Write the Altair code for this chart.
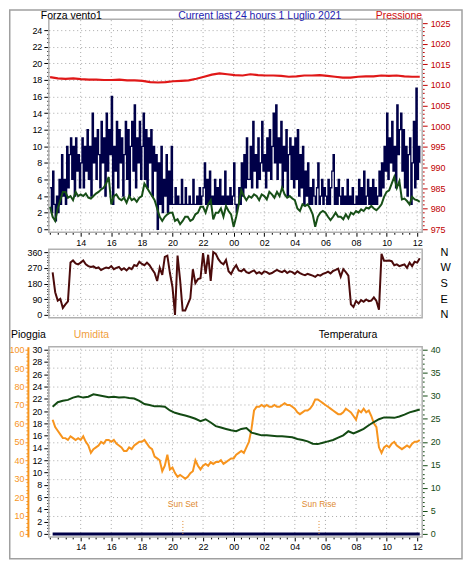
import altair as alt
import pandas as pd

# ---------------- data ----------------
# wind gust, 5-minute samples from 12:00 to 12:10 next day (hours 12 .. 36.17)
GUST = [
    5, 2, 7, 3, 1, 4, 2, 6, 3, 9, 4, 6,
    3, 10, 5, 9, 11, 6, 10, 4, 11, 7, 9, 5,
    8, 11, 5, 10, 7, 12, 6, 10, 4, 14, 8, 11,
    6, 12, 9, 5, 13, 8, 11, 4, 14, 7, 12, 9,
    16, 3, 10, 7, 13, 5, 12, 8, 11, 4, 9, 13,
    6, 12, 4, 10, 13, 7, 15, 5, 11, 8, 13, 6,
    10, 14, 6, 12, 5, 11, 8, 12, 4, 10, 7, 9,
    0, 8, 3, 10, 2, 6, 4, 9, 2, 7, 3, 10,
    3, 3, 5, 3, 4, 3, 3, 6, 3, 3, 5, 3,
    3, 4, 3, 3, 6, 3, 3, 4, 3, 5, 3, 4,
    5, 8, 3, 6, 3, 7, 3, 4, 3, 6, 3, 5,
    3, 6, 3, 4, 3, 7, 3, 4, 3, 5, 3, 4,
    8, 3, 2, 3, 5, 3, 8, 4, 9, 5, 11, 6,
    6, 10, 5, 13, 7, 9, 5, 11, 6, 8, 13, 7,
    9, 5, 11, 7, 12, 6, 10, 14, 8, 15, 6, 11,
    8, 13, 5, 10, 7, 12, 4, 9, 11, 6, 10, 5,
    11, 6, 12, 4, 9, 5, 10, 3, 7, 4, 8, 3,
    5, 3, 6, 4, 3, 5, 8, 3, 4, 6, 3, 5,
    4, 3, 6, 3, 5, 7, 9, 3, 5, 3, 6, 4,
    3, 5, 3, 4, 3, 6, 3, 4, 3, 5, 3, 3,
    4, 3, 6, 3, 5, 3, 7, 3, 4, 6, 3, 5,
    3, 6, 3, 5, 3, 4, 7, 4, 8, 5, 10, 7,
    14, 6, 11, 8, 13, 7, 10, 5, 15, 9, 12, 14,
    7, 12, 5, 10, 4, 9, 11, 3, 8, 13, 5, 17,
    6, 10, 8,
]
# average wind, 10-minute samples from 12:00
WIND_AVG = [
    2.7, 1.5, 1.0, 2.5, 3.5, 4.5,
    4.5, 3.8, 4.0, 3.5, 4.5, 4.0,
    4.2, 4.0, 4.3, 3.8, 3.7, 4.0,
    4.3, 4.5, 4.8, 5.0, 5.5, 6.3,
    3.0, 4.0, 4.2, 3.7, 3.5, 3.8,
    3.2, 4.0, 3.5, 3.7, 3.3, 3.8,
    4.0, 5.5, 5.0, 4.5, 4.0, 3.5,
    2.5, 1.5, 1.0, 1.5, 1.8, 2.0,
    2.0, 1.0, 1.2, 0.6, 1.0, 1.5,
    1.5, 1.0, 1.2, 1.8, 2.0, 2.7,
    2.7, 2.0, 3.0, 3.5, 1.2, 2.0,
    2.0, 2.5, 1.5, 2.8, 2.2, 1.8,
    0.3, 1.5, 3.0, 4.7, 4.0, 3.5,
    4.0, 3.8, 4.2, 4.0, 3.5, 4.2,
    4.0, 3.6, 4.5, 4.2, 3.8, 4.5,
    4.0, 5.0, 4.2, 3.8, 4.0, 3.7,
    3.5, 2.5, 2.2, 3.0, 2.8, 3.0,
    2.5, 1.8, 0.3, 1.5, 2.0, 2.2,
    2.0, 1.5, 1.1, 1.5, 2.0, 1.5,
    1.5, 1.2, 1.8, 1.3, 2.0, 1.8,
    2.2, 2.0, 2.4, 2.2, 2.6, 2.5,
    2.8, 2.5, 2.3, 2.6, 3.0, 3.9,
    4.5, 4.7, 5.5, 6.3, 5.0, 5.8,
    3.6, 3.7, 3.4, 3.0, 3.9, 3.6,
    3.5, 3.3,
]
# pressure (hPa), half-hourly from 12:00
PRESSURE = [
    1011.9, 1011.6, 1011.5, 1011.6, 1011.4, 1011.3, 1011.3, 1011.2,
    1011.2, 1011.3, 1011.1, 1011.1, 1011.0, 1010.7, 1010.6, 1010.7,
    1010.9, 1011.0, 1011.1, 1011.5, 1012.0, 1012.5, 1012.8, 1012.6,
    1012.4, 1012.3, 1012.6, 1012.4, 1012.3, 1012.3, 1012.2, 1012.0,
    1012.1, 1012.3, 1012.3, 1012.4, 1012.2, 1012.0, 1011.8, 1011.8,
    1012.0, 1012.1, 1012.1, 1012.3, 1012.2, 1012.3, 1012.1, 1012.0,
    1012.0,
]
# wind direction (degrees), 10-minute samples from 12:10
DIRECTION = [
    244, 130, 82, 92, 40,
    60, 78, 300, 312, 295, 290,
    300, 312, 290, 280, 275, 278,
    268, 272, 257, 265, 272, 268,
    280, 262, 270, 275, 258, 268,
    255, 270, 262, 286, 280, 305,
    292, 285, 300, 285, 262, 240,
    194, 270, 230, 333, 340, 240,
    160, 0, 340, 200, 25, 25,
    60, 95, 262, 182, 205, 210,
    355, 235, 345, 195, 360, 350,
    320, 300, 290, 315, 250, 235,
    265, 285, 255, 250, 262, 245,
    240, 248, 255, 238, 245, 235,
    250, 245, 235, 240, 250, 258,
    250, 245, 255, 240, 250, 245,
    235, 250, 240, 232, 228, 235,
    230, 225, 218, 230, 225, 235,
    240, 248, 238, 252, 258, 265,
    220, 262, 245, 225, 60, 45,
    80, 65, 85, 75, 88, 78,
    82, 100, 80, 30, 350, 310,
    310, 312, 308, 285, 290, 280,
    285, 290, 270, 300, 280, 305,
    300, 325,
]
# temperature (C), 20-minute samples from 12:10
TEMPERATURE = [
    27.6, 28.6, 28.9, 29.1, 29.6, 29.9, 29.6, 29.8, 30.3,
    30.1, 29.9, 29.7, 29.8, 29.6, 29.7, 29.5, 29.4, 28.9,
    28.2, 28.0, 27.7, 27.7, 27.6, 26.8, 26.3, 26.0, 25.7,
    25.4, 25.0, 24.5, 24.9, 24.2, 23.4, 23.1, 22.8, 22.5,
    22.3, 22.8, 23.0, 22.0, 21.7, 21.4, 21.4, 21.3, 21.2,
    21.2, 21.1, 21.0, 20.6, 20.4, 20.1, 19.6, 19.5, 19.8,
    20.1, 20.4, 20.9, 21.4, 22.3, 21.8, 22.3, 22.8, 23.6,
    24.3, 24.9, 25.3, 25.3, 25.2, 25.5, 25.9, 26.4, 26.7,
    27.0,
]
# humidity (%), 10-minute samples from 12:10
HUMIDITY = [
    62, 58, 56, 54, 52,
    52, 51, 53, 52, 51, 52,
    51, 53, 50, 48, 44, 46,
    47, 48, 50, 49, 51, 51,
    50, 51, 49, 48, 47, 45,
    45, 47, 46, 48, 49, 50,
    50, 51, 49, 47, 46, 42,
    41, 40, 34, 37, 43, 35,
    36, 33, 31, 32, 31, 30,
    31, 33, 34, 40, 37, 35,
    37, 38, 37, 39, 38, 39,
    39, 40, 38, 39, 40, 41,
    41, 43, 44, 45, 44, 47,
    50, 57, 67, 69, 69, 70,
    69, 70, 69, 69, 70, 69,
    69, 70, 71, 70, 70, 69,
    68, 66, 65, 66, 67, 67,
    68, 70, 73, 73, 72, 71,
    70, 69, 68, 67, 66, 65,
    65, 66, 68, 67, 66, 64,
    62, 67, 66, 68, 66, 67,
    64, 60, 58, 47, 44, 47,
    48, 47, 49, 50, 48, 47,
    46, 47, 48, 47, 49, 50,
    50, 51,
]
RAIN = [0, 0]
SUN_HOURS = [20.68, 29.58]
SUN_LABELS = ["Sun Set", "Sun Rise"]
GRID_HOURS = list(range(14, 37, 2))


def times(n, start, end):
    step = (end - start) / (n - 1)
    return [start + i * step for i in range(n)]


END = 36 + 10 / 60
START2 = 12 + 10 / 60
gust_df = pd.DataFrame({"t": times(len(GUST), 12.0, END), "v": GUST})
avg_df = pd.DataFrame({"t": times(len(WIND_AVG), 12.0, END), "v": WIND_AVG})
pres_df = pd.DataFrame({"t": times(len(PRESSURE), 12.0, END), "v": PRESSURE})
dir_df = pd.DataFrame({"t": times(len(DIRECTION), START2, END), "v": DIRECTION})
temp_df = pd.DataFrame({"t": times(len(TEMPERATURE), START2, END), "v": TEMPERATURE})
hum_df = pd.DataFrame({"t": times(len(HUMIDITY), START2, END), "v": HUMIDITY})
rain_df = pd.DataFrame({"t": times(len(RAIN), START2, END), "v": RAIN})
sun_df = pd.DataFrame({"h": SUN_HOURS, "label": SUN_LABELS})
grid_df = pd.DataFrame({"h": GRID_HOURS})
one = pd.DataFrame({"k": [0]})

# ---------------- layout / style ----------------
FONT = "Liberation Sans"
W, H = 375, 520
X_DOM = [11.917, 36.325]
WIND = ([-0.36, 25.32], [214, 0])
PRES = ([974.275, 1025.966], [214, 0])
DIRS = ([-17.14, 377.14], [300, 231])
RAINS = ([-0.486, 30.486], [520, 329])
HUMS = ([-1.62, 101.62], [520, 329])
TEMPS = ([-0.649, 40.649], [520, 329])

FRAME = "#b0b0b0"
GRIDC = "#a8a8a8"
NAVY = "#000048"
GREEN = "#174f17"
RED = "#e01818"
BROWN = "#4b0b0b"
ORANGE = "#f7941d"
TGREEN = "#134a13"


def xsc():
    return alt.Scale(domain=X_DOM, nice=False, zero=False)


def ysc(spec):
    dom, rng = spec
    return alt.Scale(domain=dom, range=rng, nice=False, zero=False)


def cond(test, a, b):
    return {"condition": {"test": test, "value": a}, "value": b}


def yaxis(orient, lo, hi, step, major, color="black", grid=False, offset=0,
          domain=False, tmaj=5, tmin=2, pad=2):
    n = int(round((hi - lo) / step))
    vals = [lo + i * step for i in range(n + 1)]
    test = f"datum.value % {major} == 0"
    kw = dict(orient=orient, values=vals,
              labelExpr=f"{test} ? '' + datum.value : ''",
              tickSize=cond(test, tmaj, tmin), tickColor=color,
              labelColor=color, labelFont=FONT, labelFontSize=9,
              labelPadding=pad, labelOverlap=False, domain=domain,
              grid=grid, title=None)
    if grid:
        kw.update(gridColor=GRIDC, gridDash=[1, 3], gridOpacity=cond(test, 1, 0))
    if domain:
        kw.update(domainColor=color, domainWidth=2)
    if offset:
        kw.update(offset=offset)
    return alt.Axis(**kw)


XTEST = "datum.value % 2 == 0 && datum.value > 12"


def xaxis(offset=0):
    kw = dict(orient="bottom", values=[12 + 0.5 * i for i in range(49)],
              labelExpr=f"({XTEST}) ? ((datum.value % 24 < 10 ? '0' : '') + (datum.value % 24)) : ''",
              tickSize=cond(XTEST, 4, 2), tickColor="black", labelColor="black",
              labelFont=FONT, labelFontSize=9, labelPadding=2, labelOverlap=False,
              labelFlush=False, domain=False, grid=False, title=None)
    if offset:
        kw.update(offset=offset)
    return alt.Axis(**kw)


def frame(spec, axis=None):
    dom = spec[0]
    return alt.Chart(one).mark_rect(fillOpacity=0, stroke=FRAME, strokeWidth=1.5).encode(
        x=alt.datum(X_DOM[0], type="quantitative", scale=xsc(), axis=None),
        x2=alt.datum(X_DOM[1]),
        y=alt.datum(dom[0], type="quantitative", scale=ysc(spec), axis=axis),
        y2=alt.datum(dom[1]),
    )


def vgrid(spec):
    dom = spec[0]
    return alt.Chart(grid_df).mark_rule(color=GRIDC, strokeDash=[1, 3], strokeWidth=1).encode(
        x=alt.X("h:Q", scale=xsc(), axis=None),
        y=alt.datum(dom[0], type="quantitative", scale=ysc(spec), axis=None),
        y2=alt.datum(dom[1]),
    )


def line(df, spec, color, width, yax=None, xax=None, interp="linear"):
    return alt.Chart(df).mark_line(color=color, strokeWidth=width, interpolate=interp).encode(
        x=alt.X("t:Q", scale=xsc(), axis=xax),
        y=alt.Y("v:Q", scale=ysc(spec), axis=yax),
    )


def label(text, x, y, color, align="left", size=10.5):
    return alt.Chart(one).mark_text(text=text, align=align, baseline="alphabetic",
                                    font=FONT, fontSize=size, color=color).encode(
        x=alt.value(x), y=alt.value(y))


letters = alt.Axis(orient="right", values=[0, 90, 180, 270, 360],
                   labelExpr="datum.value == 90 ? 'E' : datum.value == 180 ? 'S' : datum.value == 270 ? 'W' : 'N'",
                   ticks=False, tickSize=0, domain=False, grid=False, labelPadding=18,
                   labelFont=FONT, labelFontSize=11, labelColor="black", title=None)

border = alt.Chart(one).mark_rect(fillOpacity=0, stroke="#a0a0a0", strokeWidth=1.5).encode(
    x=alt.value(-39.25), x2=alt.value(415), y=alt.value(-9.25), y2=alt.value(542))

layers = [
    # top panel
    vgrid(WIND), frame(WIND),
    line(gust_df, WIND, NAVY, 1.3, yax=yaxis("left", 0, 24, 0.5, 2, grid=True),
         xax=xaxis(offset=-(H - 214)), interp="step-after"),
    line(avg_df, WIND, GREEN, 2),
    line(pres_df, PRES, RED, 2.2, yax=yaxis("right", 975, 1025, 1, 5, color="#c00000", pad=3)),
    # middle panel
    vgrid(DIRS), frame(DIRS, axis=letters),
    line(dir_df, DIRS, BROWN, 2, yax=yaxis("left", 0, 360, 15, 90, grid=True)),
    # bottom panel
    vgrid(RAINS), frame(RAINS),
    line(hum_df, HUMS, ORANGE, 2, yax=yaxis("left", 0, 100, 2, 10, color=ORANGE, grid=True,
                                              offset=21, domain=True, tmaj=3, tmin=2, pad=1)),
    line(temp_df, TEMPS, TGREEN, 2, yax=yaxis("right", 0, 40, 1, 5, color=TGREEN, pad=3)),
    line(rain_df, RAINS, NAVY, 3, yax=yaxis("left", 0, 30, 0.5, 2), xax=xaxis()),
    alt.Chart(sun_df).mark_rule(color="#e08a30", strokeDash=[1, 2], strokeWidth=1).encode(
        x=alt.X("h:Q", scale=xsc(), axis=None),
        y=alt.datum(0, type="quantitative", scale=ysc(RAINS), axis=None),
        y2=alt.datum(2.3)),
    alt.Chart(sun_df).mark_text(font=FONT, fontSize=8.5, color="#e08a30", baseline="middle").encode(
        x=alt.X("h:Q", scale=xsc(), axis=None),
        y=alt.datum(4.9, type="quantitative", scale=ysc(RAINS), axis=None),
        text="label:N"),
    # titles
    label("Forza vento1", -8, -0.5, "black"),
    label("Current last 24 hours 1 Luglio 2021", 130, -0.5, "#1c1cb0"),
    label("Pressione", 375, -0.5, "#d01010", align="right"),
    label("Pioggia", -38, 320, "black"),
    label("Umidita", 25, 320, "#f0a040"),
    label("Temperatura", 271, 320, "black"),
    border,
]

chart = alt.layer(*layers).resolve_scale(x="independent", y="independent").properties(
    width=W, height=H, padding=0
).configure_view(stroke="transparent")

chart.save("out.html", embed_options={"renderer": "svg", "actions": False})
